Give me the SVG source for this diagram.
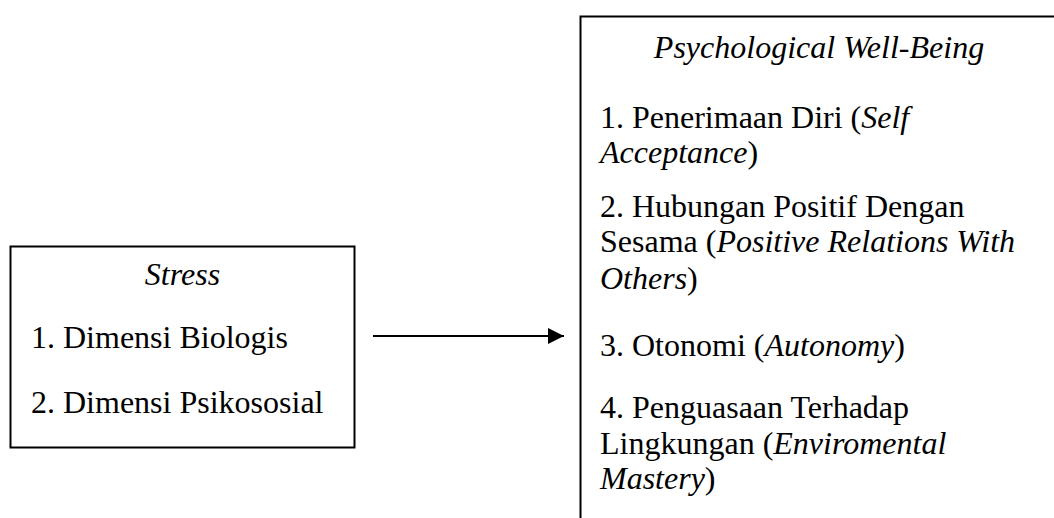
<svg xmlns="http://www.w3.org/2000/svg" width="1054" height="518" viewBox="0 0 1054 518">
  <style>
    .box { fill: #ffffff; stroke: #000000; stroke-width: 2; }
    .t { font-family: "Liberation Serif", "Times New Roman", serif; font-size: 32px; fill: #000000; }
    .i { font-style: italic; }
    .conn { stroke: #000000; stroke-width: 2.2; fill: none; }
  </style>
  <defs>
    <marker id="arrow" markerUnits="userSpaceOnUse" markerWidth="18" markerHeight="16" refX="16" refY="8" orient="auto">
      <path d="M0,0 L16,8 L0,16 Z" fill="#000000"/>
    </marker>
  </defs>
  <rect x="0" y="0" width="1054" height="518" fill="#ffffff"/>
  <g id="stress">
    <rect class="box" x="10.5" y="246.5" width="344" height="201"/>
    <text class="t i" x="182.5" y="285" text-anchor="middle">Stress</text>
    <text class="t" x="31" y="348">1. Dimensi Biologis</text>
    <text class="t" x="31" y="413">2. Dimensi Psikososial</text>
  </g>
  <g id="pwb">
    <rect class="box" x="580.5" y="16.5" width="520" height="540"/>
    <text class="t i" x="819" y="58" text-anchor="middle">Psychological Well-Being</text>
    <text class="t" x="600" y="128">1. Penerimaan Diri (<tspan class="i">Self</tspan></text>
    <text class="t" x="600" y="163"><tspan class="i">Acceptance</tspan>)</text>
    <text class="t" x="600" y="217">2. Hubungan Positif Dengan</text>
    <text class="t" x="600" y="252">Sesama (<tspan class="i">Positive Relations With</tspan></text>
    <text class="t" x="600" y="289"><tspan class="i">Others</tspan>)</text>
    <text class="t" x="600" y="356">3. Otonomi (<tspan class="i">Autonomy</tspan>)</text>
    <text class="t" x="600" y="418">4. Penguasaan Terhadap</text>
    <text class="t" x="600" y="454">Lingkungan (<tspan class="i">Enviromental</tspan></text>
    <text class="t" x="600" y="489"><tspan class="i">Mastery</tspan>)</text>
  </g>
  <g id="connectors">
    <line class="conn" x1="373" y1="336" x2="564" y2="336" marker-end="url(#arrow)"/>
  </g>
</svg>
